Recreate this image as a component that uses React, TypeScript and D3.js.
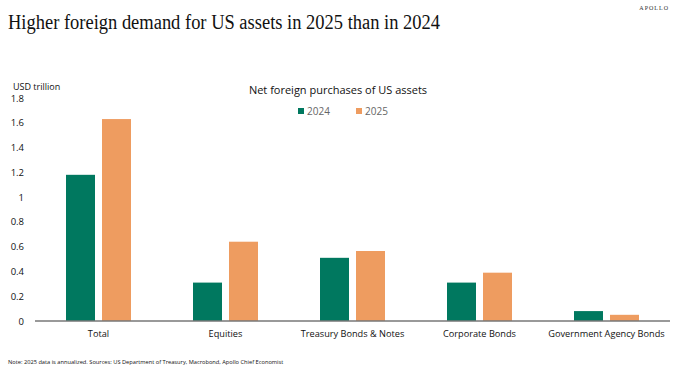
import React from "react";
import * as d3 from "d3";

const categories = ["Total", "Equities", "Treasury Bonds & Notes", "Corporate Bonds", "Government Agency Bonds"];
const values2024 = [1.18, 0.31, 0.51, 0.31, 0.08];
const values2025 = [1.63, 0.64, 0.565, 0.39, 0.05];
const seriesNames = ["2024", "2025"];
const yTicks = [0, 0.2, 0.4, 0.6, 0.8, 1, 1.2, 1.4, 1.6, 1.8];

const colors = ["#00785F", "#EE9C60"];
const sans = "'Open Sans', 'Noto Sans', sans-serif";
const serif = "'Liberation Serif', 'DejaVu Serif', serif";

export default function App() {
  const width = 677;
  const height = 372;
  const margin = { top: 98, right: 7, bottom: 51, left: 35 };

  const x = d3.scaleBand<string>()
    .domain(categories)
    .range([margin.left, width - margin.right])
    .paddingInner(0)
    .paddingOuter(0);

  const y = d3.scaleLinear()
    .domain([0, 1.8])
    .range([height - margin.bottom, margin.top]);

  const barW = 29;
  const gap = 7;
  const series = [values2024, values2025];

  return (
    <svg width={width} height={height} style={{ position: "absolute", left: 0, top: 0, background: "#fff" }}>
      <text x={669} y={10} textAnchor="end" fontFamily={serif} fontSize={6} letterSpacing={1} fill="#333">APOLLO</text>
      <text x={8} y={29} fontFamily={serif} fontSize={20.5} fill="#111" textLength={432} lengthAdjust="spacingAndGlyphs">
        Higher foreign demand for US assets in 2025 than in 2024
      </text>

      <text x={13} y={89.5} fontFamily={sans} fontSize={9} fill="#111">USD trillion</text>
      <text x={338} y={94} textAnchor="middle" fontFamily={sans} fontSize={11} fill="#111">
        Net foreign purchases of US assets
      </text>

      {seriesNames.map((s, i) => (
        <g key={s} transform={`translate(${298 + i * 58},108)`}>
          <rect x={0} y={0} width={6} height={6} fill={colors[i]} />
          <text x={9} y={6.5} fontFamily={sans} fontSize={10} fill="#666">{s}</text>
        </g>
      ))}

      {yTicks.map(t => (
        <text key={t} x={24} y={y(t) + 3.5} textAnchor="end" fontFamily={sans} fontSize={9.5} fill="#111">
          {d3.format("~g")(t)}
        </text>
      ))}

      {categories.map((c, ci) => {
        const cx = (x(c) ?? 0) + x.bandwidth() / 2;
        return (
          <g key={c}>
            {series.map((vals, si) => {
              const bx = si === 0 ? cx - gap / 2 - barW : cx + gap / 2;
              return (
                <rect key={si} x={bx} y={y(vals[ci])} width={barW} height={y(0) - y(vals[ci])} fill={colors[si]} />
              );
            })}
            <text x={cx} y={y(0) + 16} textAnchor="middle" fontFamily={sans} fontSize={9.2} fill="#111">{c}</text>
          </g>
        );
      })}

      <line x1={margin.left} x2={width - margin.right} y1={y(0)} y2={y(0)} stroke="#777" strokeWidth={1.5} />

      <text x={8} y={364} fontFamily={sans} fontSize={5.7} fill="#111">
        Note: 2025 data is annualized. Sources: US Department of Treasury, Macrobond, Apollo Chief Economist
      </text>
    </svg>
  );
}
